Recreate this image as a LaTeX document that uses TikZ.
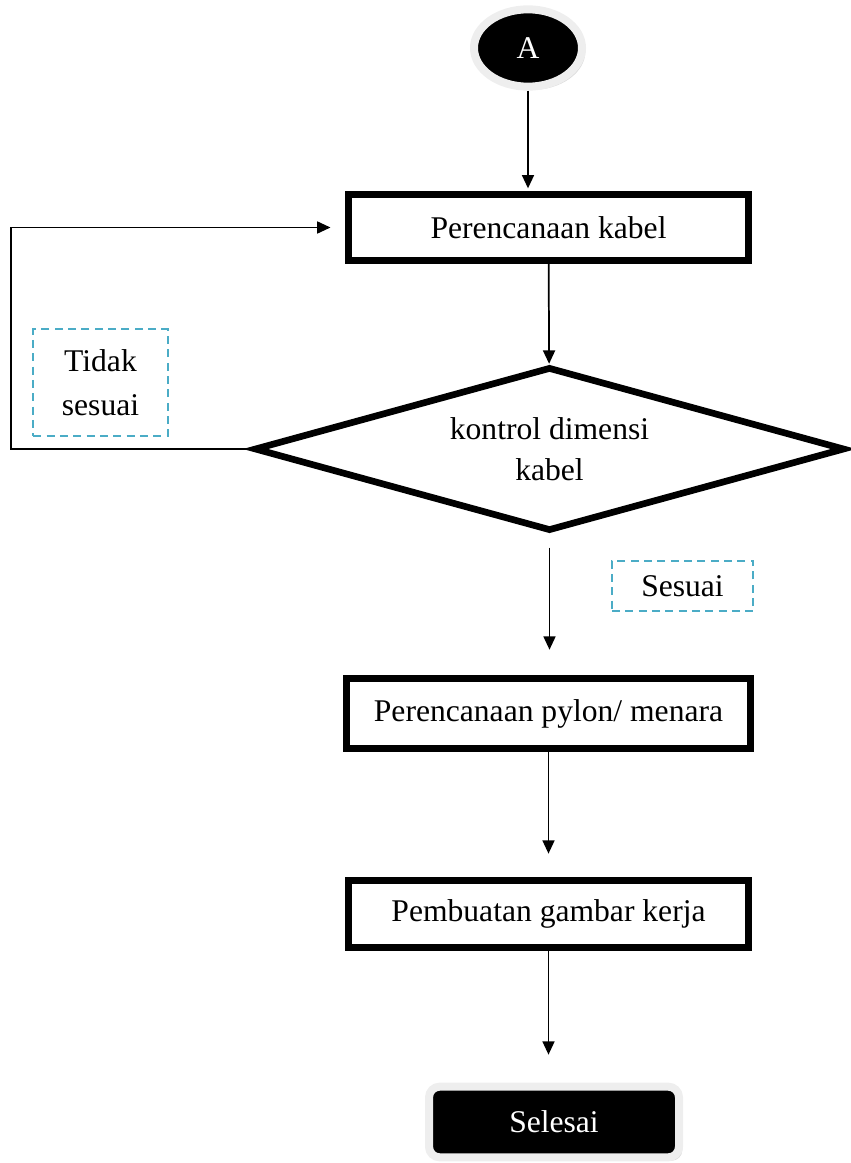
\documentclass[tikz,border=0pt]{standalone}
\usepackage{fontspec}
\setmainfont{Liberation Serif}
\usetikzlibrary{positioning,shapes.geometric,arrows.meta,shadows}
\definecolor{flowBlue}{HTML}{4BACC6}
\definecolor{flowRing}{HTML}{EEEEEE}

\begin{document}
\begin{tikzpicture}[x=0.75pt,y=-0.75pt,
    font=\fontsize{23.7}{30}\selectfont,
    procbox/.style={draw,line width=5pt,minimum width=300pt,inner sep=0pt},
    notebox/.style={draw=flowBlue,line width=1.5pt,dash pattern=on 6pt off 4pt,align=center,inner sep=0pt},
    termbox/.style={fill=black,draw=flowRing,line width=6pt,text=white,inner sep=0pt,
      drop shadow={opacity=0.3,shadow xshift=2.5pt,shadow yshift=-2.5pt}},
    flowarrow/.style={line width=1.3pt,-{Triangle[length=10pt,width=9pt]}}]
  \useasboundingbox (0,0) rectangle (850,1163);

  % start and end terminals
  \node[termbox,ellipse,minimum width=81pt,minimum height=58pt] (start) at (528,48) {A};
  \node[termbox,rounded corners=8pt,minimum width=187.5pt,minimum height=53pt] (selesai) at (554,1122) {Selesai};

  % process steps
  \node[procbox,minimum height=49.7pt] (kabel) at (548.5,227.5) {Perencanaan kabel};
  \node[diamond,draw,line width=5pt,aspect=3.6,minimum width=443pt,minimum height=123pt,
    inner sep=0pt,align=center,font=\fontsize{23.7}{31}\selectfont] (cek) at (549.5,449)
    {kontrol dimensi\\kabel};
  \node[procbox,minimum width=303pt,minimum height=52.7pt] (pylon) at (548.5,713.5) {Perencanaan pylon/ menara};
  \node[procbox,minimum height=50.5pt] (gambar) at (548.5,914) {Pembuatan gambar kerja};

  % decision labels
  \node[notebox,minimum width=101pt,minimum height=80pt,font=\fontsize{23.7}{33}\selectfont] (tidak) at (100.5,382.5) {Tidak\\sesuai};
  \node[notebox,minimum width=106pt,minimum height=38pt] (sesuai) at (682.5,586) {Sesuai};

  \coordinate (loopx) at (11,0);

  % connectors
  \draw[flowarrow,shorten >=2pt] (start.south) -- (start.south |- kabel.north);
  \draw[flowarrow] (kabel) -- (cek);
  \draw[flowarrow,shorten <=10pt,shorten >=19pt] (cek.south) -- (cek.south |- pylon.north);
  \draw[flowarrow,shorten >=17.5pt] (pylon.south) -- (pylon.south |- gambar.north);
  \draw[flowarrow,shorten >=21pt] (gambar.south) -- (gambar.south |- selesai.north);
  \draw[flowarrow,shorten >=11pt] (cek.west) -- (cek.west -| loopx) |- (kabel.west);
\end{tikzpicture}
\end{document}
